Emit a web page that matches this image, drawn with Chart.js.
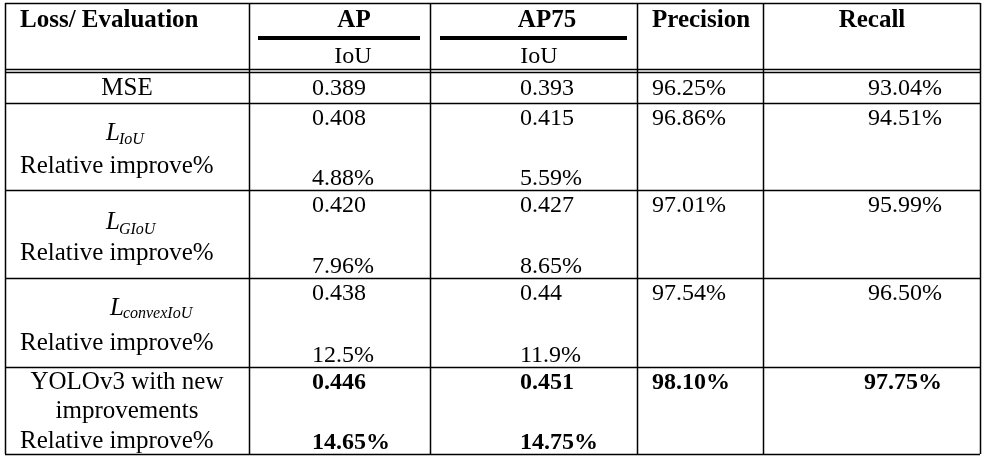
<!DOCTYPE html>
<html>
<head>
<meta charset="utf-8">
<script src="https://cdn.jsdelivr.net/npm/chart.js@4/dist/chart.umd.min.js"></script>
<style>
  html, body { margin: 0; padding: 0; background: #fff; }
  #myChart { display: block; }
</style>
</head>
<body>
<canvas id="myChart" width="992" height="462"></canvas>
<script>
// table content
const columnHeads = ['Loss/ Evaluation', 'AP', 'AP75', 'Precision', 'Recall'];
const subHeads = ['IoU', 'IoU'];
const lossNames = ['MSE', 'L', 'L', 'L', 'YOLOv3 with new'];
const lossSubscripts = [null, 'IoU', 'GIoU', 'convexIoU', null];
const lastRowExtra = 'improvements';
const improveLabel = 'Relative improve%';
const apValues = ['0.389', '0.408', '0.420', '0.438', '0.446'];
const ap75Values = ['0.393', '0.415', '0.427', '0.44', '0.451'];
const precisionValues = ['96.25%', '96.86%', '97.01%', '97.54%', '98.10%'];
const recallValues = ['93.04%', '94.51%', '95.99%', '96.50%', '97.75%'];
const apImprove = [null, '4.88%', '7.96%', '12.5%', '14.65%'];
const ap75Improve = [null, '5.59%', '8.65%', '11.9%', '14.75%'];
const boldRow = 4;

// layout (in scale units, same as pixels)
const colEdges = [5, 249, 430, 637, 763, 980];
const rowEdges = [3, 72, 103, 190, 278, 367, 454];
const headDoubleY = 69;
const lLeft = [0, 106, 106, 110, 0];
const lBase = [0, 140, 229, 315, 0];
const subBase = [0, 144, 234, 318, 0];
const relBase = [0, 173, 260, 350, 448];

const SERIF = '"Liberation Serif", "Times New Roman", serif';

const tablePlugin = {
    id: 'tableDraw',
    afterDraw(chart) {
        const ctx = chart.ctx;
        const xs = chart.scales.x;
        const ys = chart.scales.y;
        const X = v => xs.getPixelForValue(v);
        const Y = v => ys.getPixelForValue(v);

        ctx.save();
        ctx.strokeStyle = '#000';
        ctx.fillStyle = '#000';

        // grid
        ctx.lineWidth = 1.5;
        const top = rowEdges[0], bottom = rowEdges[rowEdges.length - 1];
        colEdges.forEach(c => {
            ctx.beginPath();
            ctx.moveTo(X(c) + 0.5, Y(top));
            ctx.lineTo(X(c) + 0.5, Y(bottom));
            ctx.stroke();
        });
        rowEdges.concat([headDoubleY]).forEach(r => {
            ctx.beginPath();
            ctx.moveTo(X(colEdges[0]), Y(r) + 0.5);
            ctx.lineTo(X(colEdges[colEdges.length - 1]), Y(r) + 0.5);
            ctx.stroke();
        });

        // thick rules under AP / AP75
        ctx.lineWidth = 4;
        [[258, 420], [440, 627]].forEach(seg => {
            ctx.beginPath();
            ctx.moveTo(X(seg[0]), Y(38));
            ctx.lineTo(X(seg[1]), Y(38));
            ctx.stroke();
        });

        const text = (s, x, y, font, align) => {
            ctx.font = font;
            ctx.textAlign = align || 'left';
            ctx.textBaseline = 'alphabetic';
            ctx.fillText(s, X(x), Y(y));
        };
        const reg = '24px ' + SERIF;
        const bold = 'bold 24px ' + SERIF;
        const lab = '25px ' + SERIF;
        const head = 'bold 25px ' + SERIF;

        // header
        text(columnHeads[0], 20, 27, head);
        text(columnHeads[1], 354, 27, head, 'center');
        text(columnHeads[2], 547, 27, head, 'center');
        text(columnHeads[3], 652, 27, head);
        text(columnHeads[4], 872, 27, head, 'center');
        text(subHeads[0], 353, 63, reg, 'center');
        text(subHeads[1], 539, 63, reg, 'center');

        // body
        for (let i = 0; i < lossNames.length; i++) {
            const rTop = rowEdges[i + 1];
            const rBot = rowEdges[i + 2];
            const vBase = i === 0 ? rTop + 23 : rTop + 22;
            const f = i === boldRow ? bold : reg;

            if (i === 0) {
                text(lossNames[i], 127, vBase, lab, 'center');
            } else if (lossSubscripts[i]) {
                ctx.font = 'italic 25px ' + SERIF;
                const lw = ctx.measureText(lossNames[i]).width;
                text(lossNames[i], lLeft[i], lBase[i], 'italic 25px ' + SERIF);
                text(lossSubscripts[i], lLeft[i] + lw - 1, subBase[i], 'italic 16px ' + SERIF);
                text(improveLabel, 20, relBase[i], lab);
            } else {
                text(lossNames[i], 127, vBase, lab, 'center');
                text(lastRowExtra, 127, 418, lab, 'center');
                text(improveLabel, 20, relBase[i], lab);
            }

            text(apValues[i], 312, vBase, f);
            text(ap75Values[i], 520, vBase, f);
            text(precisionValues[i], 652, vBase, f);
            text(recallValues[i], 942, vBase, f, 'right');
            if (apImprove[i]) {
                text(apImprove[i], 312, rBot - 5, f);
                text(ap75Improve[i], 520, rBot - 5, f);
            }
        }
        ctx.restore();
    }
};

const config = {
    type: 'scatter',
    data: { datasets: [] },
    options: {
        responsive: false,
        animation: false,
        layout: { padding: 0 },
        plugins: {
            legend: { display: false },
            tooltip: { enabled: false },
            title: { display: false }
        },
        scales: {
            x: { type: 'linear', min: 0, max: 992, display: false },
            y: { type: 'linear', min: 0, max: 462, reverse: true, display: false }
        }
    },
    plugins: [tablePlugin]
};

const ctx = document.getElementById('myChart').getContext('2d');
new Chart(ctx, config);
</script>
</body>
</html>
